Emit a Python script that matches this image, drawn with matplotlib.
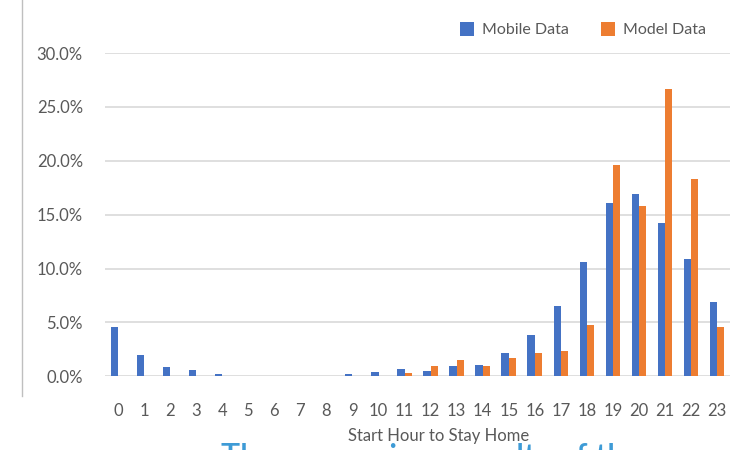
import matplotlib.pyplot as plt
import matplotlib.lines as mlines
import numpy as np

# ---- data (percent) ----
hours = [str(h) for h in range(24)]
mobile = [4.55, 1.95, 0.9, 0.56, 0.19, 0.0, 0.0, 0.0, 0.0, 0.19, 0.43, 0.71,
          0.5, 0.96, 1.08, 2.17, 3.8, 6.5, 10.6, 16.1, 16.9, 14.2, 10.85, 6.9]
model = [0.0, 0.0, 0.0, 0.0, 0.0, 0.0, 0.0, 0.0, 0.0, 0.0, 0.0, 0.34,
         0.96, 1.49, 0.96, 1.7, 2.17, 2.32, 4.8, 19.6, 15.8, 26.7, 18.3, 4.6]
yticks = [0, 5, 10, 15, 20, 25, 30]

plt.rcParams['font.family'] = ['Lato', 'DejaVu Sans']
txt = '#595959'

fig = plt.figure(figsize=(7.45, 4.5), dpi=100)
ax = fig.add_axes([0.141, 0.164, 0.839, 0.718])

x = np.arange(len(hours))
w = 0.28
ax.bar(x - w / 2, mobile, w, color='#4472C4', label='Mobile Data', zorder=3)
ax.bar(x + w / 2, model, w, color='#ED7D31', label='Model Data', zorder=3)

ax.set_xlim(-0.5, 23.5)
ax.set_ylim(0, 30)
ax.set_yticks(yticks)
ax.set_yticklabels(['{:.1f}%'.format(v) for v in yticks])
ax.set_xticks(x)
ax.set_xticklabels(hours)
ax.grid(axis='y', color='#D9D9D9', linewidth=1.2, zorder=0)
for s in ax.spines.values():
    s.set_visible(False)
ax.tick_params(length=0, labelsize=12, colors=txt)
ax.tick_params(axis='y', pad=16)
ax.tick_params(axis='x', pad=19)
ax.set_xlabel('Start Hour to Stay Home', fontsize=12, color=txt, labelpad=7, x=0.534)

ax.legend(loc='center right', bbox_to_anchor=(0.985, 1.072), ncol=2, frameon=False,
          fontsize=11.5, handlelength=0.9, handleheight=0.9, columnspacing=2.0,
          handletextpad=0.5, labelcolor=txt)

# left border line of the slide
fig.add_artist(mlines.Line2D([22 / 745, 22 / 745], [1.0, 0.12], color='#BFBFBF', linewidth=1))

# clipped slide caption below the chart
fig.text(0.296, -0.051, 'The comparison results of the', fontsize=23, color='#3E9BD6',
         fontweight='semibold', va='bottom')

fig.savefig('out.png', dpi=100)
